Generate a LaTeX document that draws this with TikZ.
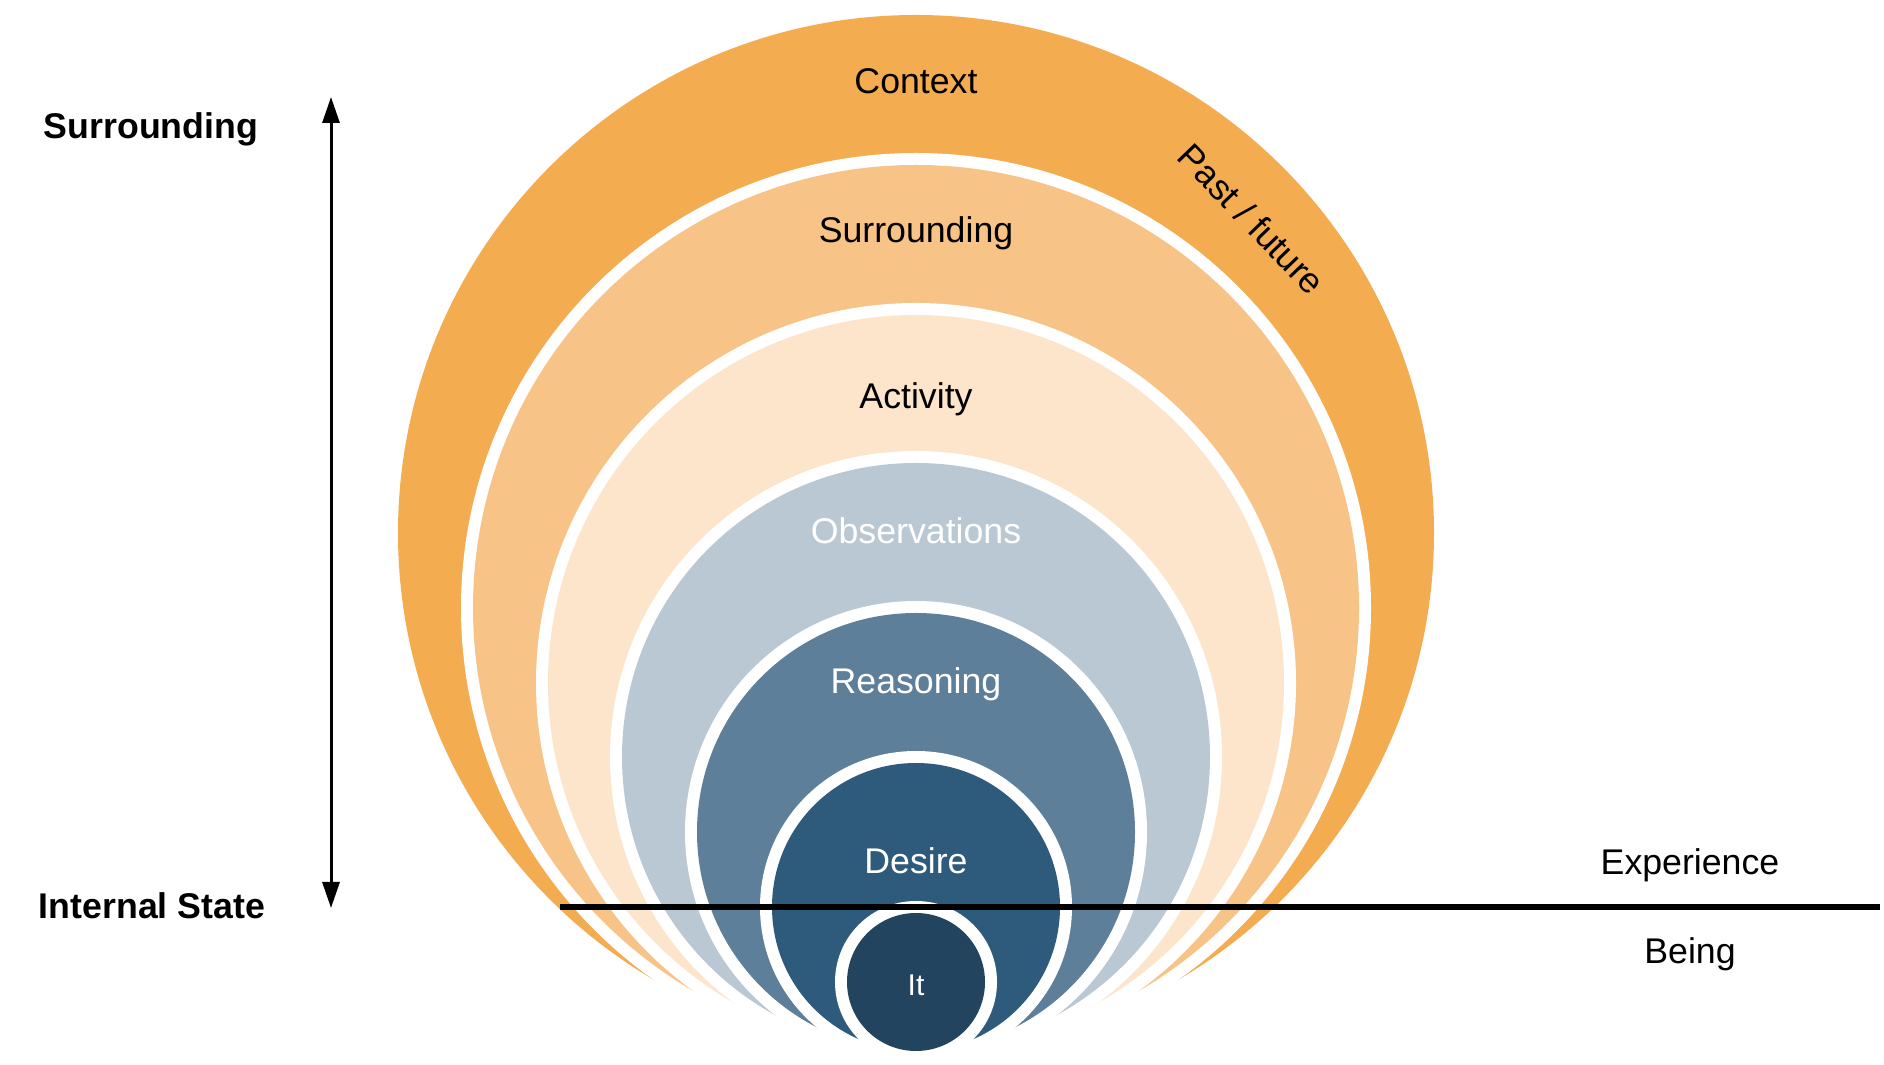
\documentclass[tikz,border=0pt]{standalone}
\usepackage{fontspec}
\setmainfont{Liberation Sans}
\usetikzlibrary{arrows.meta}
\definecolor{ctxcol}{RGB}{244,172,80}
\definecolor{surcol}{RGB}{247,195,135}
\definecolor{actcol}{RGB}{252,229,203}
\definecolor{obscol}{RGB}{186,200,212}
\definecolor{reacol}{RGB}{94,127,154}
\definecolor{descol}{RGB}{46,91,124}
\definecolor{itcol}{RGB}{34,68,94}
\begin{document}
\begin{tikzpicture}[x=0.5pt,y=0.5pt,
  lbl/.style={font=\fontsize{17.85}{21}\selectfont, anchor=base, inner sep=0pt},
  side/.style={lbl, font=\fontsize{17.85}{21}\selectfont\bfseries},
  scalearrow/.style={line width=1.5pt,
    {Triangle[length=13pt,width=8.5pt]}-{Triangle[length=13pt,width=8.5pt]}}]
\useasboundingbox (0,0) rectangle (1884,1065);

% nested circles, all resting on the same bottom line, each with a white rim
\foreach \r/\c in {518/ctxcol,443/surcol,368/actcol,294/obscol,219/reacol,144/descol,69/itcol}{
  \fill[white] (916,14+\r) circle (\r+12);
  \fill[\c] (916,14+\r) circle (\r);
}

% ring labels
\node[lbl] (ctx) at (916,971) {Context};
\node[lbl] (sur) at (916,822) {Surrounding};
\node[lbl] (act) at (916,656) {Activity};
\node[lbl,white] (obs) at (916,521) {Observations};
\node[lbl,white] (rea) at (916,371) {Reasoning};
\node[lbl,white] (des) at (916,191) {Desire};
\node[lbl,white,font=\fontsize{15}{17}\selectfont] (it) at (916,69) {It};
\node[lbl,anchor=center,rotate=-46] (past) at (1252,846) {Past / future};

% left scale
\node[side] (lsur) at (151,926) {Surrounding};
\node[side] (lint) at (152,146) {Internal State};
\coordinate (atop) at (331,968);
\coordinate (abot) at (331,157);
\draw[scalearrow] (atop) -- (abot);

% experience / being divider
\coordinate (la) at (560,158);
\coordinate (lb) at (1880,158);
\draw[line width=3pt] (la) -- (lb);
\node[lbl] (exp) at (1690,190) {Experience};
\node[lbl] (being) at (1690,101) {Being};
\end{tikzpicture}
\end{document}
